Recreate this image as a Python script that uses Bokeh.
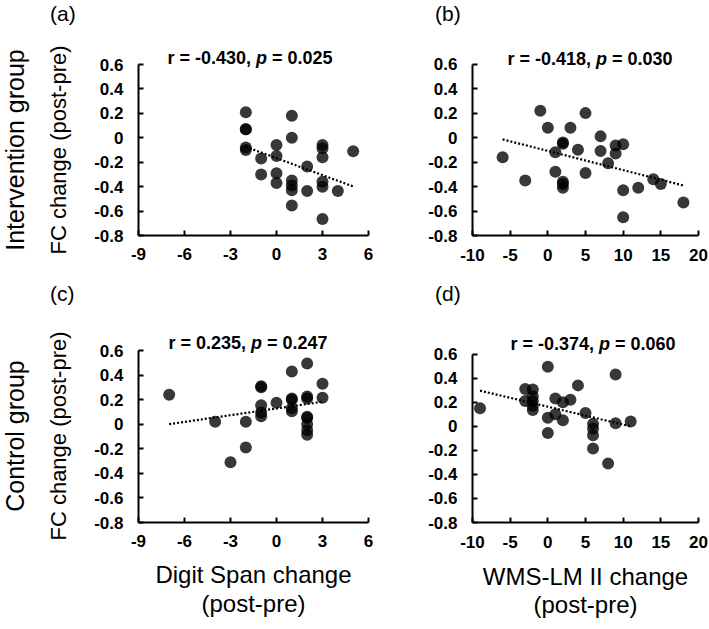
import numpy as np
from bokeh.plotting import figure
from bokeh.models import FixedTicker, Range1d, ColumnDataSource, LinearAxis, Div, Label
from bokeh.layouts import row, column
from bokeh.embed import file_html
from bokeh.resources import INLINE

# ---------------- data ----------------
digit_ticks = [-9, -6, -3, 0, 3, 6]
digit_tick_labels = ["-9", "-6", "-3", "0", "3", "6"]
wms_ticks = [-10, -5, 0, 5, 10, 15, 20]
wms_tick_labels = ["-10", "-5", "0", "5", "10", "15", "20"]
fc_ticks = [-0.8, -0.6, -0.4, -0.2, 0, 0.2, 0.4, 0.6]
fc_tick_labels = ["-0.8", "-0.6", "-0.4", "-0.2", "0", "0.2", "0.4", "0.6"]

panel_letters = ["(a)", "(b)", "(c)", "(d)"]
r_values = ["-0.430", "-0.418", "0.235", "-0.374"]
p_values = ["0.025", "0.030", "0.247", "0.060"]
row_titles = ["Intervention group", "Control group"]
y_title = "FC change (post-pre)"
x_titles_digit = ["Digit Span change", "(post-pre)"]
x_titles_wms = ["WMS-LM II change", "(post-pre)"]

# (a) Intervention, Digit Span
a_x = [-2, -2, -2, -2, -2, -1, -1, 0, 0, 0, 0, 1, 1, 1, 1, 1, 1, 2, 2, 3, 3, 3, 3, 3, 3, 4, 5]
a_y = [0.21, 0.07, 0.07, -0.08, -0.10, -0.17, -0.30, -0.06, -0.15, -0.29, -0.37,
       0.18, 0.00, -0.35, -0.39, -0.43, -0.555, -0.235, -0.435,
       -0.06, -0.085, -0.16, -0.36, -0.40, -0.665, -0.435, -0.11]
# (b) Intervention, WMS-LM II
b_x = [-6, -3, -1, 0, 1, 1, 2, 2, 2, 2, 2, 3, 4, 5, 5, 7, 7, 8, 9, 9, 10, 10, 10, 12, 14, 15, 18]
b_y = [-0.16, -0.35, 0.22, 0.08, -0.12, -0.28, -0.04, -0.05, -0.36, -0.38, -0.41,
       0.08, -0.10, 0.20, -0.29, 0.01, -0.11, -0.21, -0.065, -0.13,
       -0.055, -0.43, -0.65, -0.41, -0.34, -0.38, -0.53]
# (c) Control, Digit Span
c_x = [-7, -4, -3, -2, -2, -1, -1, -1, -1, -1, 0, 1, 1, 1, 1, 1, 2, 2, 2, 2, 2, 2, 2, 2, 3, 3]
c_y = [0.24, 0.02, -0.31, 0.02, -0.19, 0.31, 0.30, 0.155, 0.095, 0.065, 0.175,
       0.43, 0.21, 0.20, 0.13, 0.105, 0.495, 0.225, 0.21, 0.06, 0.05, 0.0, -0.05, -0.085,
       0.33, 0.215]
# (d) Control, WMS-LM II
d_x = [-9, -3, -3, -2, -2, -2, -2, -2, 0, 0, 0, 1, 1, 2, 2, 3, 4, 5, 6, 6, 6, 6, 8, 9, 9, 11]
d_y = [0.15, 0.31, 0.21, 0.305, 0.25, 0.21, 0.17, 0.135, 0.495, 0.07, -0.055,
       0.23, 0.10, 0.20, 0.05, 0.22, 0.34, 0.11, 0.02, -0.02, -0.075, -0.185,
       -0.31, 0.43, 0.025, 0.04]

FONT = "Liberation Sans"
# Liberation Sans Bold advance widths (em) for the title text
BW = {' ': 0.278, '=': 0.584, '-': 0.333, '.': 0.278, ',': 0.278, 'r': 0.389, 'p': 0.611}


def bold_width(s, size):
    return sum(BW.get(c, 0.556) for c in s) * size


def style_text_axis(ax, size):
    ax.axis_label_text_font = FONT
    ax.axis_label_text_font_style = "normal"
    ax.axis_label_text_font_size = f"{size}px"
    ax.axis_label_text_color = "black"


def make_panel(xs, ys, xticks, xlabels, fw, fh, bl, br, bt, bb, idx,
               title_dx, title_dy, x_standoff, x_title=None, x_label_standoffs=(11, -1)):
    # the frame is extended upward by `ext` px (into the title area); the y axis
    # itself is bounded to the tick range so it still ends at 0.6
    top_keep = 4
    ext = bt - top_keep
    x0, x1 = xticks[0], xticks[-1]
    y0, y1 = fc_ticks[0], fc_ticks[-1]
    y_top = y1 + ext * (y1 - y0) / fh
    p = figure(width=bl + fw + br, height=bt + fh + bb,
               x_range=Range1d(x0, x1), y_range=Range1d(y0, y_top),
               min_border_left=bl, min_border_right=br, min_border_top=top_keep,
               min_border_bottom=bb, output_backend="svg", toolbar_location=None)
    p.outline_line_color = None
    p.grid.visible = False
    p.background_fill_color = "white"
    p.border_fill_color = "white"
    for ax in (p.xaxis[0], p.yaxis[0]):
        ax.axis_line_color = "black"
        ax.axis_line_width = 2
        ax.major_tick_line_color = "black"
        ax.major_tick_line_width = 2
        ax.major_tick_in = 5
        ax.major_tick_out = 0
        ax.minor_tick_line_color = None
        ax.major_label_text_font = FONT
        ax.major_label_text_font_style = "bold"
        ax.major_label_text_font_size = "17px"
        ax.major_label_text_color = "black"
    p.xaxis.ticker = FixedTicker(ticks=xticks)
    p.xaxis.major_label_overrides = dict(zip(xticks, xlabels))
    p.xaxis.major_label_standoff = x_standoff
    p.yaxis.ticker = FixedTicker(ticks=fc_ticks)
    p.yaxis.bounds = (y0, y1)
    p.yaxis.major_label_overrides = dict(zip(fc_ticks, fc_tick_labels))
    p.yaxis.major_label_standoff = 15

    if x_title is not None:
        p.xaxis.axis_label = x_title[0]
        p.xaxis.axis_label_standoff = x_label_standoffs[0]
        style_text_axis(p.xaxis[0], 24)
        ax2 = LinearAxis(ticker=FixedTicker(ticks=[]), axis_label=x_title[1],
                         axis_line_color=None, major_tick_line_color=None,
                         minor_tick_line_color=None, major_tick_in=0, major_tick_out=0,
                         major_label_standoff=0, axis_label_standoff=x_label_standoffs[1])
        style_text_axis(ax2, 24)
        p.add_layout(ax2, "below")

    src = ColumnDataSource(dict(x=xs, y=ys))
    p.scatter("x", "y", source=src, size=12, fill_color="black", fill_alpha=0.78, line_color=None)
    slope, icpt = np.polyfit(np.array(xs, float), np.array(ys, float), 1)
    lx = [min(xs), max(xs)]
    ly = [icpt + slope * v for v in lx]
    p.line(lx, ly, line_color="black", line_width=2.2, line_dash="2 2")

    # title "r = ..., p = ..." with italic p
    tsize = 18
    lead = f"r = {r_values[idx]}, "
    parts = [(f"r = {r_values[idx]},", 0.0, "bold"),
             ("p", bold_width(lead, tsize), "bold italic"),
             (f"= {p_values[idx]}", bold_width(lead + "p ", tsize), "bold")]
    for text, dx, style in parts:
        p.add_layout(Label(x=x0, y=y1, x_offset=title_dx + dx, y_offset=title_dy, text=text,
                           text_font=FONT, text_font_size=f"{tsize}px", text_font_style=style,
                           text_align="left", text_baseline="alphabetic", text_color="black"))
    return p


def span(text, left, top, size, extra=""):
    return (f'<span style="position:absolute;left:{left}px;top:{top}px;'
            f"font-family:'{FONT}';font-size:{size}px;line-height:{size}px;"
            f'white-space:nowrap;color:#000;{extra}">{text}</span>')


def letter_div(width, height, items):
    # items: (text, left, baseline)
    inner = "".join(span(t, l, round(b - 0.8465 * 21, 2), 21) for t, l, b in items)
    return Div(text=f'<div style="position:relative;width:{width}px;height:{height}px;">{inner}</div>',
               width=width, height=height, margin=0, disable_math=True)


def rotated_div(width, height, items):
    # items: (text, size, baseline_x, center_y); rotated 90deg counter-clockwise
    inner = ""
    for t, size, bx, cy in items:
        cx = bx - 0.3465 * size
        inner += span(t, round(cx, 2), cy, size,
                      "transform:translate(-50%,-50%) rotate(-90deg);")
    return Div(text=f'<div style="position:relative;width:{width}px;height:{height}px;">{inner}</div>',
               width=width, height=height, margin=0, disable_math=True)


LEFT_W = 72
pa = make_panel(a_x, a_y, digit_ticks, digit_tick_labels, 230, 171, 138 - LEFT_W, 6, 38, 38, 0,
                29, 6.5, 12)
pb = make_panel(b_x, b_y, wms_ticks, wms_tick_labels, 226, 173, 98, 11, 38, 36, 1,
                35, 5, 13)
pc = make_panel(c_x, c_y, digit_ticks, digit_tick_labels, 230, 172, 138 - LEFT_W, 6, 42, 107, 2,
                30, 8, 12, x_title=x_titles_digit, x_label_standoffs=(11, -1))
pd = make_panel(d_x, d_y, wms_ticks, wms_tick_labels, 226, 170, 98, 11, 46, 105, 3,
                38, 10.5, 13, x_title=x_titles_wms, x_label_standoffs=(12, -2))

top_letters = letter_div(709 - LEFT_W, 26,
                         [(panel_letters[0], 50 - LEFT_W, 20.7), (panel_letters[1], 435 - LEFT_W, 20.3)])
mid_letters = letter_div(709 - LEFT_W, 35,
                         [(panel_letters[2], 50 - LEFT_W, 28), (panel_letters[3], 435 - LEFT_W, 28)])
left_titles = rotated_div(LEFT_W, 629, [(row_titles[0], 25, 23.5, 149.5),
                                        (y_title, 22, 66.7, 149.5),
                                        (row_titles[1], 25, 23.5, 436),
                                        (y_title, 22, 66.7, 436)])

layout = row(left_titles,
             column(top_letters, row(pa, pb), mid_letters, row(pc, pd)))

open("out.html", "w").write(file_html(layout, INLINE))
